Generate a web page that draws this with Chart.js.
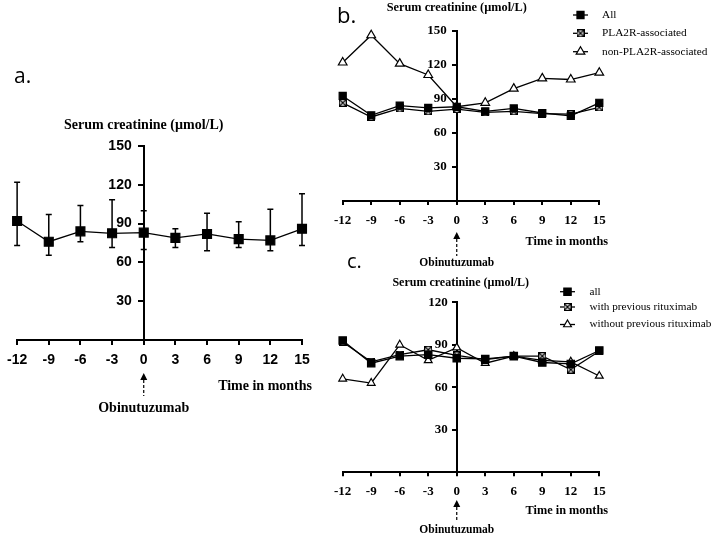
<!DOCTYPE html>
<html>
<head>
<meta charset="utf-8">
<script src="https://cdn.jsdelivr.net/npm/chart.js@4.4.1/dist/chart.umd.min.js"></script>
<style>
  html, body { margin: 0; padding: 0; background: #fff; }
  #wrap { position: relative; width: 714px; height: 536px; }
  #wrap canvas { position: absolute; left: 0; top: 0; }
</style>
</head>
<body>
<div id="wrap">
  <canvas id="chartA" width="714" height="536"></canvas>
  <canvas id="chartB" width="714" height="536"></canvas>
  <canvas id="chartC" width="714" height="536"></canvas>
</div>
<script>
// months relative to the first Obinutuzumab dose
const months = [-12, -9, -6, -3, 0, 3, 6, 9, 12, 15];
const yTicksAB = [0, 30, 60, 90, 120, 150];
const yTicksC = [0, 30, 60, 90, 120];

// a. all patients, mean with error bars
const meanA = [92, 76, 84, 82.5, 83, 79, 82, 78, 77, 86];
const upperA = [122, 97, 104, 108.5, 100, 86, 98, 91.5, 101, 113];
const lowerA = [73, 65.5, 76, 71.5, 70, 71.5, 69, 71.5, 69, 73];

// b. by PLA2R status
const legendB = ['All', 'PLA2R-associated', 'non-PLA2R-associated'];
const allB = [92.5, 75.5, 84, 82, 83, 79, 81.5, 77.5, 75, 86.5];
const pla2rB = [86.5, 74, 81.5, 79, 81, 78, 79, 77, 76.5, 82.5];
const nonPla2rB = [122, 146, 121, 111, 83, 86.5, 99, 108, 107, 113];

// c. by previous rituximab
const legendC = ['all', 'with previous rituximab', 'without previous rituximab'];
const allC = [93, 77, 82, 83, 80.5, 80, 82, 77.5, 76.5, 86];
const withRtxC = [92, 78, 83, 86.5, 82.5, 79.5, 82, 82, 72.5, 85.5];
const withoutRtxC = [66, 63, 90, 79, 88, 77, 82, 79, 78, 68];

const SERIF = "'Liberation Serif', 'Times New Roman', serif";
const SANS = "'Liberation Sans', Arial, sans-serif";

function crossedSquare(size) {
    const c = document.createElement('canvas');
    c.width = c.height = size;
    const g = c.getContext('2d');
    g.fillStyle = '#fff';
    g.fillRect(0, 0, size, size);
    g.strokeStyle = '#000';
    g.lineWidth = 1.2;
    g.strokeRect(0.6, 0.6, size - 1.2, size - 1.2);
    g.beginPath();
    g.moveTo(1, 1); g.lineTo(size - 1, size - 1);
    g.moveTo(size - 1, 1); g.lineTo(1, size - 1);
    g.stroke();
    return c;
}

function lineSet(label, values, pointStyle, radius, fill) {
    return {
        label: label,
        data: months.map((m, i) => ({ x: m, y: values[i] })),
        borderColor: '#000',
        borderWidth: 1.3,
        pointStyle: pointStyle,
        pointRadius: radius,
        pointHoverRadius: radius,
        pointBackgroundColor: fill,
        pointBorderColor: '#000',
        pointBorderWidth: 1.2,
        tension: 0,
        fill: false,
        clip: false
    };
}

function axes(o) {
    return {
        x: {
            type: 'linear', min: -12, max: 15,
            afterBuildTicks: s => { s.ticks = months.map(v => ({ value: v })); },
            afterFit: s => { s.height = 40; },
            grid: { drawOnChartArea: false, color: '#000', lineWidth: 2, tickLength: o.tl },
            border: { display: true, color: '#000', width: 2 },
            ticks: { color: '#000', font: o.font, padding: o.xPad, maxRotation: 0, autoSkip: false }
        },
        y: {
            type: 'linear', min: 0, max: o.yTicks[o.yTicks.length - 1],
            position: { x: 0 },
            afterBuildTicks: s => { s.ticks = o.yTicks.map(v => ({ value: v })); },
            grid: { drawOnChartArea: false, color: '#000', lineWidth: 2, tickLength: o.tl },
            border: { display: true, color: '#000', width: 2 },
            // labels are drawn by the extras plugin, left of the centred axis
            ticks: { display: false }
        }
    };
}

// y labels, titles, arrow, panel letter, legend and error bars
function makeExtras(cfg) {
    return {
        id: 'extras',
        beforeDatasetsDraw(chart) {
            if (!cfg.errors) return;
            const ctx = chart.ctx, xs = chart.scales.x, ys = chart.scales.y;
            ctx.save();
            ctx.strokeStyle = '#000';
            ctx.lineWidth = 1.5;
            months.forEach((m, i) => {
                const px = xs.getPixelForValue(m);
                const top = ys.getPixelForValue(cfg.errors.upper[i]);
                const bot = ys.getPixelForValue(cfg.errors.lower[i]);
                ctx.beginPath();
                ctx.moveTo(px, top); ctx.lineTo(px, bot);
                ctx.moveTo(px - 3, top); ctx.lineTo(px + 3, top);
                ctx.moveTo(px - 3, bot); ctx.lineTo(px + 3, bot);
                ctx.stroke();
            });
            ctx.restore();
        },
        afterDraw(chart) {
            const ctx = chart.ctx, xs = chart.scales.x, ys = chart.scales.y;
            const x0 = xs.getPixelForValue(0);
            ctx.save();
            ctx.fillStyle = '#000';
            ctx.textBaseline = 'middle';

            // y tick labels
            ctx.textAlign = 'right';
            ctx.font = cfg.yFont;
            ys.ticks.forEach(t => {
                if (t.value === 0) return;
                ctx.fillText(String(t.value), x0 - cfg.yGap, ys.getPixelForValue(t.value));
            });

            // title
            ctx.textAlign = 'center';
            ctx.font = 'bold ' + cfg.titleSize + 'px ' + SERIF;
            ctx.fillText('Serum creatinine (µmol/L)', x0 + cfg.titleDx, cfg.titleY);

            // x axis name
            ctx.textAlign = 'right';
            ctx.font = 'bold ' + cfg.axisSize + 'px ' + SERIF;
            ctx.fillText('Time in months', cfg.axisRight, cfg.axisY);

            // arrow + drug
            ctx.beginPath();
            ctx.moveTo(x0, cfg.arrowTop);
            ctx.lineTo(x0 - 3.5, cfg.arrowTop + 7);
            ctx.lineTo(x0 + 3.5, cfg.arrowTop + 7);
            ctx.closePath();
            ctx.fill();
            ctx.strokeStyle = '#000';
            ctx.lineWidth = 1.2;
            ctx.setLineDash([3, 2]);
            ctx.beginPath();
            ctx.moveTo(x0, cfg.arrowTop + 7);
            ctx.lineTo(x0, cfg.arrowBottom);
            ctx.stroke();
            ctx.setLineDash([]);
            ctx.textAlign = 'center';
            ctx.font = 'bold ' + cfg.drugSize + 'px ' + SERIF;
            ctx.fillText('Obinutuzumab', x0, cfg.drugY);

            // panel letter
            ctx.textAlign = 'left';
            ctx.textBaseline = 'alphabetic';
            ctx.font = cfg.letterSize + "px 'Open Sans', sans-serif";
            ctx.fillText(cfg.letter, cfg.letterX, cfg.letterY);

            // legend
            if (cfg.legend) {
                const L = cfg.legend;
                chart.data.datasets.forEach((ds, i) => {
                    const y = L.rows[i];
                    ctx.strokeStyle = '#000';
                    ctx.lineWidth = 1.3;
                    ctx.beginPath();
                    ctx.moveTo(L.x1, y); ctx.lineTo(L.x2, y);
                    ctx.stroke();
                    ctx.fillStyle = ds.pointBackgroundColor;
                    ctx.lineWidth = 1.2;
                    Chart.helpers.drawPoint(ctx, {
                        pointStyle: ds.pointStyle, radius: ds.pointRadius, rotation: 0, borderWidth: 1.2
                    }, (L.x1 + L.x2) / 2, y);
                    ctx.fillStyle = '#000';
                    ctx.textBaseline = 'middle';
                    ctx.font = L.size + 'px ' + SERIF;
                    ctx.fillText(ds.label, L.tx, y);
                });
            }
            ctx.restore();
        }
    };
}

function baseOptions(padding, scales) {
    return {
        responsive: false,
        animation: false,
        layout: { padding: padding, autoPadding: false },
        scales: scales,
        plugins: { legend: { display: false }, tooltip: { enabled: false } }
    };
}

// a.
new Chart(document.getElementById('chartA'), {
    type: 'line',
    data: { datasets: [lineSet('All', meanA, 'rect', 6.3, '#000')] },
    options: baseOptions({ left: 12, right: 412, top: 146, bottom: 156 },
        axes({ yTicks: yTicksAB, tl: 5, xPad: 7, font: { family: SANS, size: 14, weight: 'bold' } })),
    plugins: [makeExtras({
        errors: { upper: upperA, lower: lowerA },
        yFont: 'bold 14px ' + SANS, yGap: 12,
        titleSize: 14, titleDx: 0, titleY: 125,
        axisSize: 14, axisRight: 312, axisY: 386,
        arrowTop: 373, arrowBottom: 396, drugSize: 14, drugY: 408,
        letter: 'a.', letterSize: 21, letterX: 14, letterY: 83
    })]
});

// b.
const xBox = crossedSquare(8);
new Chart(document.getElementById('chartB'), {
    type: 'line',
    data: { datasets: [
        lineSet(legendB[0], allB, 'rect', 5, '#000'),
        lineSet(legendB[1], pla2rB, xBox, 4, '#fff'),
        lineSet(legendB[2], nonPla2rB, 'triangle', 5, '#fff')
    ] },
    options: baseOptions({ left: 342.7, right: 114.7, top: 30.7, bottom: 295 },
        axes({ yTicks: yTicksAB, tl: 4, xPad: 8, font: { family: SERIF, size: 13, weight: 'bold' } })),
    plugins: [makeExtras({
        yFont: 'bold 13px ' + SERIF, yGap: 10,
        titleSize: 12.3, titleDx: 0, titleY: 7.5,
        axisSize: 12.3, axisRight: 608, axisY: 242,
        arrowTop: 232, arrowBottom: 256, drugSize: 11.5, drugY: 263,
        letter: 'b.', letterSize: 22, letterX: 337, letterY: 23,
        legend: { rows: [15, 33.3, 51.7], x1: 573, x2: 588, tx: 602, size: 11.3 }
    })]
});

// c.
new Chart(document.getElementById('chartC'), {
    type: 'line',
    data: { datasets: [
        lineSet(legendC[0], allC, 'rect', 5.2, '#000'),
        lineSet(legendC[1], withRtxC, xBox, 4, '#fff'),
        lineSet(legendC[2], withoutRtxC, 'triangle', 4.5, '#fff')
    ] },
    options: baseOptions({ left: 342.7, right: 114.7, top: 302.3, bottom: 23.7 },
        axes({ yTicks: yTicksC, tl: 4, xPad: 8, font: { family: SERIF, size: 13, weight: 'bold' } })),
    plugins: [makeExtras({
        yFont: 'bold 13px ' + SERIF, yGap: 9,
        titleSize: 12, titleDx: 4, titleY: 282.5,
        axisSize: 12.3, axisRight: 608, axisY: 510.5,
        arrowTop: 500, arrowBottom: 521, drugSize: 11.5, drugY: 530,
        letter: 'c.', letterSize: 20, letterX: 347, letterY: 268,
        legend: { rows: [291.7, 307, 324.5], x1: 560, x2: 575, tx: 589.5, size: 11.2 }
    })]
});
</script>
</body>
</html>
